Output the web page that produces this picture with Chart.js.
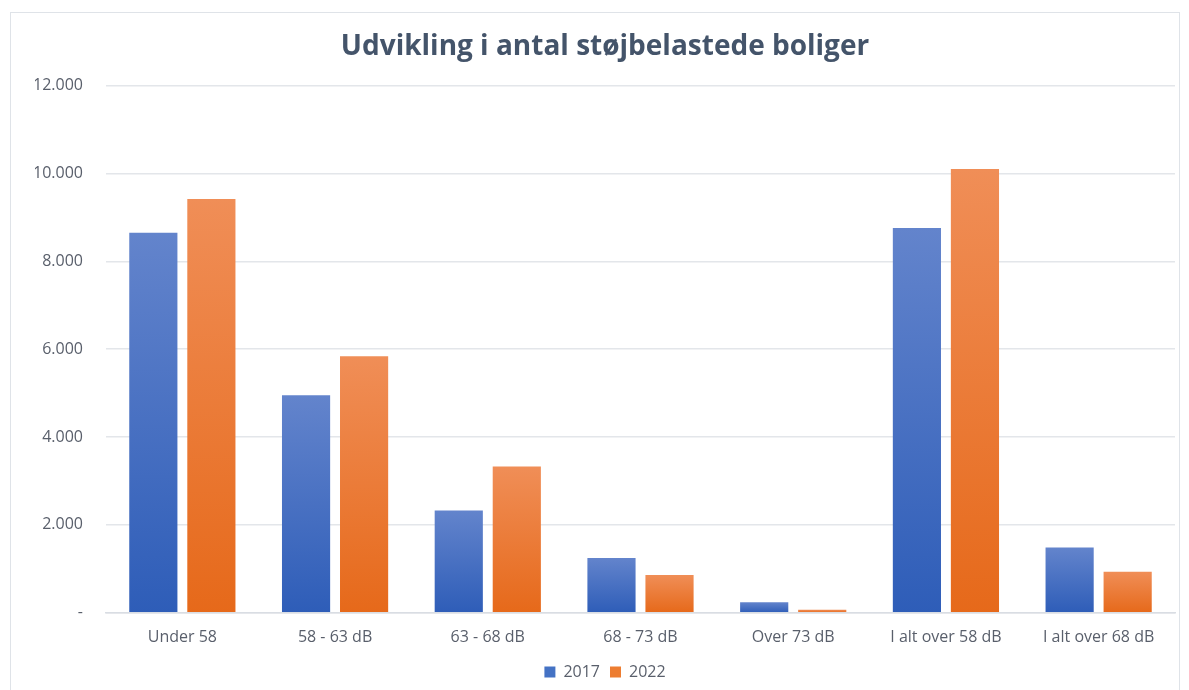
<!DOCTYPE html>
<html>
<head>
<meta charset="utf-8">
<script src="https://cdn.jsdelivr.net/npm/chart.js@4.4.1/dist/chart.umd.min.js"></script>
<style>
    html, body { margin: 0; padding: 0; background: #fff; }
    #frame {
        position: absolute; left: 10px; top: 12px; width: 1170px; height: 700px;
        border: 1px solid #dfe3e8; box-sizing: border-box;
    }
    #wrap { position: absolute; left: 0; top: 0; width: 1189px; height: 690px; }
</style>
</head>
<body>
<div id="frame"></div>
<div id="wrap"><canvas id="noiseChart"></canvas></div>
<script>
// ========================================
// Data
// ========================================
const categories = ['Under 58', '58 - 63 dB', '63 - 68 dB', '68 - 73 dB', 'Over 73 dB', 'I alt over 58 dB', 'I alt over 68 dB'];
const values2017 = [8650, 4950, 2330, 1250, 240, 8760, 1485];
const values2022 = [9420, 5840, 3330, 860, 70, 10100, 935];
const seriesLabels = ['2017', '2022'];
const yTicks = [0, 2000, 4000, 6000, 8000, 10000, 12000];

const textColor = '#595f6b';

// gradient per bar: light at top, dark at bottom
function barGradient(topColor, bottomColor, solid) {
    return function(ctx) {
        const chart = ctx.chart;
        if (!chart.chartArea || ctx.type !== 'data') return solid;
        const yScale = chart.scales.y;
        const top = yScale.getPixelForValue(ctx.raw);
        const base = yScale.getPixelForValue(0);
        if (!isFinite(top) || base - top < 1) return solid;
        const g = chart.ctx.createLinearGradient(0, top, 0, base);
        g.addColorStop(0, topColor);
        g.addColorStop(1, bottomColor);
        return g;
    };
}

function formatTick(value) {
    if (value === 0) return '-';
    return String(value).replace(/\B(?=(\d{3})+(?!\d))/g, '.');
}

const ctx = document.getElementById('noiseChart').getContext('2d');
new Chart(ctx, {
    type: 'bar',
    data: {
        labels: categories,
        datasets: [{
            label: seriesLabels[0],
            data: values2017,
            backgroundColor: barGradient('#6384cc', '#2e5db8', '#4472c4'),
            categoryPercentage: 0.76,
            barPercentage: 0.83
        }, {
            label: seriesLabels[1],
            data: values2022,
            backgroundColor: barGradient('#f08e57', '#e6691a', '#ed7d31'),
            categoryPercentage: 0.76,
            barPercentage: 0.83
        }]
    },
    options: {
        responsive: true,
        maintainAspectRatio: false,
        animation: false,
        layout: { padding: { left: 35, right: 14, top: 0, bottom: 0 } },
        plugins: {
            title: {
                display: true,
                text: 'Udvikling i antal støjbelastede boliger',
                color: '#44546a',
                font: { family: 'Open Sans', size: 28, weight: 'bold' },
                padding: { top: 30, bottom: 22 }
            },
            legend: {
                position: 'bottom',
                labels: {
                    color: textColor,
                    font: { family: 'Open Sans', size: 16 },
                    boxWidth: 11,
                    boxHeight: 11,
                    padding: 10,
                    generateLabels: function(chart) {
                        const solids = ['#4472c4', '#ed7d31'];
                        return chart.data.datasets.map((ds, i) => ({
                            text: ds.label,
                            fillStyle: solids[i],
                            strokeStyle: solids[i],
                            lineWidth: 0,
                            fontColor: textColor,
                            datasetIndex: i
                        }));
                    }
                }
            },
            tooltip: { enabled: false }
        },
        scales: {
            x: {
                grid: { display: false },
                border: { color: '#d9dde3', width: 1.5 },
                ticks: {
                    color: textColor,
                    font: { family: 'Open Sans', size: 16 },
                    padding: 7,
                    maxRotation: 0
                }
            },
            y: {
                min: 0,
                max: 12000,
                afterBuildTicks: function(axis) {
                    axis.ticks = yTicks.map(v => ({ value: v }));
                },
                // fixed axis width so the plot starts where the original does
                afterFit: function(axis) {
                    axis.width = 71;
                },
                grid: { color: '#e3e6ea', lineWidth: 1.5, drawTicks: false },
                border: { display: false },
                ticks: {
                    color: textColor,
                    font: { family: 'Open Sans', size: 16 },
                    padding: 23,
                    callback: formatTick
                }
            }
        }
    }
});
</script>
</body>
</html>
